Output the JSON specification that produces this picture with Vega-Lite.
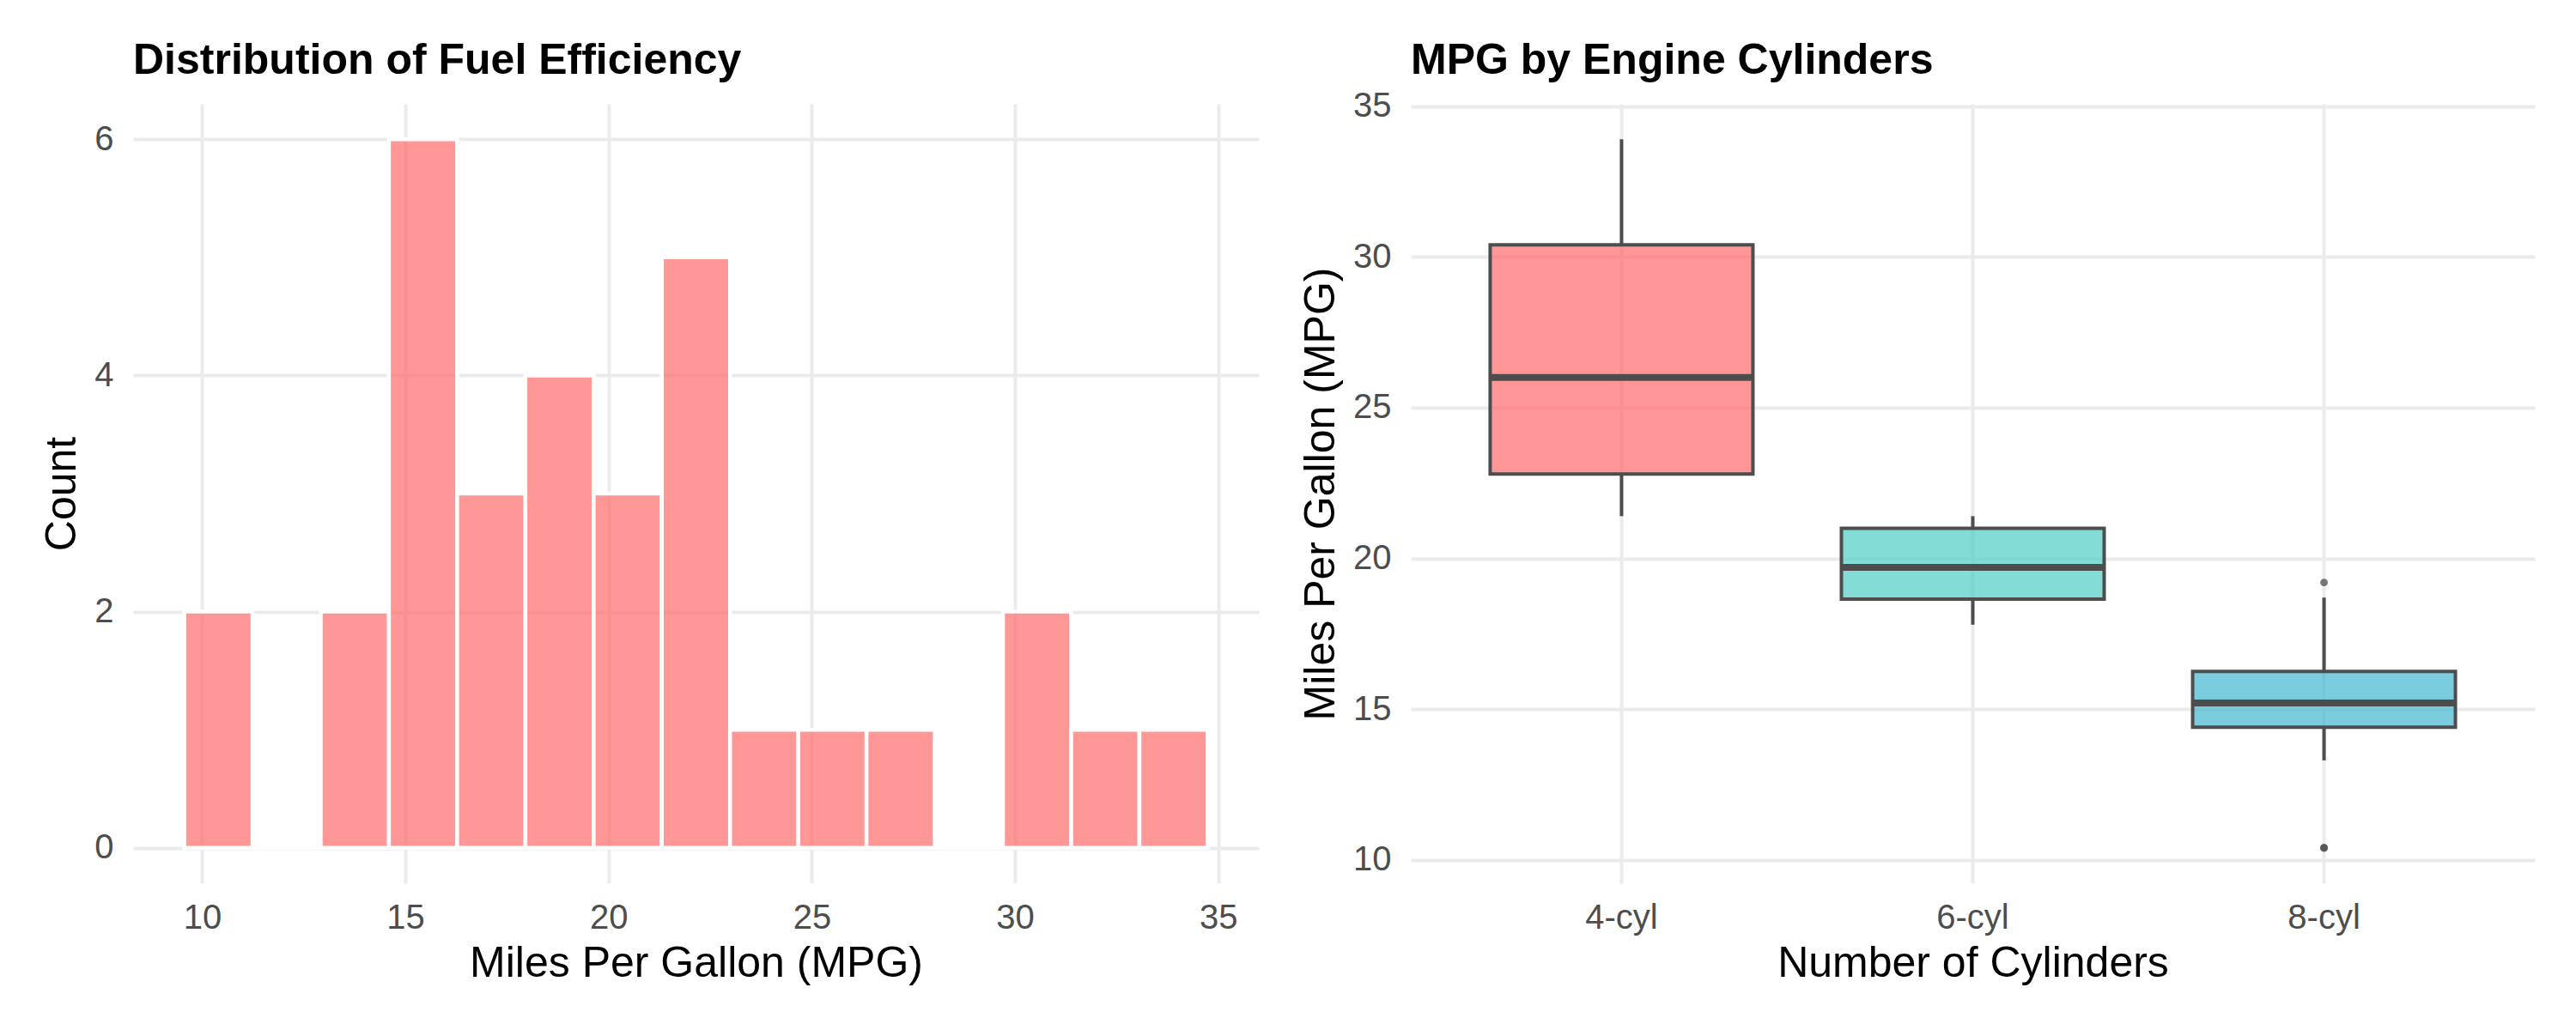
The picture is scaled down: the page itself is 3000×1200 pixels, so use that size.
{
  "$schema": "https://vega.github.io/schema/vega-lite/v6.json",
  "background": "white",
  "padding": {"left": 47, "top": 46, "right": 5, "bottom": 5},
  "config": {
    "font": "Liberation Sans",
    "view": {"stroke": null},
    "axis": {
      "domain": false,
      "ticks": false,
      "labelFontSize": 40,
      "labelColor": "#4D4D4D",
      "titleFontSize": 50,
      "titleFontWeight": "normal",
      "titleColor": "#000000",
      "gridColor": "#EBEBEB",
      "gridWidth": 4
    },
    "axisX": {"labelPadding": 20, "titlePadding": 8},
    "axisY": {"labelPadding": 23, "titlePadding": 12},
    "title": {
      "fontSize": 50,
      "fontWeight": "bold",
      "color": "#000000",
      "anchor": "start",
      "frame": "group",
      "baseline": "top"
    },
    "concat": {"spacing": 47}
  },
  "hconcat": [
    {
      "title": {"text": "Distribution of Fuel Efficiency", "offset": 25},
      "width": 1311,
      "height": 908,
      "data": {
        "values": [
          {"bin_start": 9.5607, "bin_end": 11.2393, "count": 2},
          {"bin_start": 11.2393, "bin_end": 12.9179, "count": 0},
          {"bin_start": 12.9179, "bin_end": 14.5964, "count": 2},
          {"bin_start": 14.5964, "bin_end": 16.275, "count": 6},
          {"bin_start": 16.275, "bin_end": 17.9536, "count": 3},
          {"bin_start": 17.9536, "bin_end": 19.6321, "count": 4},
          {"bin_start": 19.6321, "bin_end": 21.3107, "count": 3},
          {"bin_start": 21.3107, "bin_end": 22.9893, "count": 5},
          {"bin_start": 22.9893, "bin_end": 24.6679, "count": 1},
          {"bin_start": 24.6679, "bin_end": 26.3464, "count": 1},
          {"bin_start": 26.3464, "bin_end": 28.025, "count": 1},
          {"bin_start": 28.025, "bin_end": 29.7036, "count": 0},
          {"bin_start": 29.7036, "bin_end": 31.3821, "count": 2},
          {"bin_start": 31.3821, "bin_end": 33.0607, "count": 1},
          {"bin_start": 33.0607, "bin_end": 34.7393, "count": 1}
        ]
      },
      "mark": {
        "type": "rect",
        "fill": "#FF6B6B",
        "fillOpacity": 0.7,
        "stroke": "white",
        "strokeWidth": 4.5
      },
      "encoding": {
        "x": {
          "field": "bin_start",
          "type": "quantitative",
          "scale": {"domain": [8.3018, 35.9982], "nice": false, "zero": false},
          "axis": {"title": "Miles Per Gallon (MPG)", "values": [10, 15, 20, 25, 30, 35]}
        },
        "x2": {"field": "bin_end"},
        "y": {
          "field": "count",
          "type": "quantitative",
          "scale": {"domain": [-0.3, 6.3], "nice": false, "zero": false},
          "axis": {"title": "Count", "values": [0, 2, 4, 6]}
        },
        "y2": {"datum": 0}
      }
    },
    {
      "title": {"text": "MPG by Engine Cylinders", "offset": 7.5},
      "width": 1309,
      "height": 908,
      "data": {
        "values": [
          {"cyl": "6-cyl", "mpg": 21.0},
          {"cyl": "6-cyl", "mpg": 21.0},
          {"cyl": "4-cyl", "mpg": 22.8},
          {"cyl": "6-cyl", "mpg": 21.4},
          {"cyl": "8-cyl", "mpg": 18.7},
          {"cyl": "6-cyl", "mpg": 18.1},
          {"cyl": "8-cyl", "mpg": 14.3},
          {"cyl": "4-cyl", "mpg": 24.4},
          {"cyl": "4-cyl", "mpg": 22.8},
          {"cyl": "6-cyl", "mpg": 19.2},
          {"cyl": "6-cyl", "mpg": 17.8},
          {"cyl": "8-cyl", "mpg": 16.4},
          {"cyl": "8-cyl", "mpg": 17.3},
          {"cyl": "8-cyl", "mpg": 15.2},
          {"cyl": "8-cyl", "mpg": 10.4},
          {"cyl": "8-cyl", "mpg": 10.4},
          {"cyl": "8-cyl", "mpg": 14.7},
          {"cyl": "4-cyl", "mpg": 32.4},
          {"cyl": "4-cyl", "mpg": 30.4},
          {"cyl": "4-cyl", "mpg": 33.9},
          {"cyl": "4-cyl", "mpg": 21.5},
          {"cyl": "8-cyl", "mpg": 15.5},
          {"cyl": "8-cyl", "mpg": 15.2},
          {"cyl": "8-cyl", "mpg": 13.3},
          {"cyl": "8-cyl", "mpg": 19.2},
          {"cyl": "4-cyl", "mpg": 27.3},
          {"cyl": "4-cyl", "mpg": 26.0},
          {"cyl": "4-cyl", "mpg": 30.4},
          {"cyl": "8-cyl", "mpg": 15.8},
          {"cyl": "6-cyl", "mpg": 19.7},
          {"cyl": "8-cyl", "mpg": 15.0},
          {"cyl": "4-cyl", "mpg": 21.4}
        ]
      },
      "encoding": {
        "x": {
          "field": "cyl",
          "type": "nominal",
          "sort": ["4-cyl", "6-cyl", "8-cyl"],
          "scale": {"paddingInner": 0, "paddingOuter": 0.1},
          "axis": {"title": "Number of Cylinders", "labelAngle": 0, "grid": true, "bandPosition": 0.5}
        },
        "y": {
          "field": "mpg",
          "type": "quantitative",
          "scale": {"domain": [9.225, 35.075], "nice": false, "zero": false},
          "axis": {"title": "Miles Per Gallon (MPG)", "values": [10, 15, 20, 25, 30, 35]}
        }
      },
      "layer": [
        {
          "mark": {
            "type": "boxplot",
            "extent": 1.5,
            "size": 306,
            "ticks": false,
            "outliers": false,
            "box": {"stroke": "#4D4D4D", "strokeWidth": 4, "fillOpacity": 0.7},
            "median": {"color": "#4D4D4D", "thickness": 8, "opacity": 1},
            "rule": {"color": "#4D4D4D", "strokeWidth": 4}
          },
          "encoding": {
            "color": {
              "field": "cyl",
              "type": "nominal",
              "scale": {"domain": ["4-cyl", "6-cyl", "8-cyl"], "range": ["#FF6B6B", "#4ECDC4", "#45B7D1"]},
              "legend": null
            }
          }
        },
        {
          "transform": [
            {"joinaggregate": [{"op": "q1", "field": "mpg", "as": "q1"}, {"op": "q3", "field": "mpg", "as": "q3"}], "groupby": ["cyl"]},
            {"filter": "datum.mpg < datum.q1 - 1.5 * (datum.q3 - datum.q1) || datum.mpg > datum.q3 + 1.5 * (datum.q3 - datum.q1)"}
          ],
          "mark": {"type": "point", "filled": true, "color": "#4D4D4D", "size": 80, "opacity": 0.75}
        }
      ]
    }
  ]
}
